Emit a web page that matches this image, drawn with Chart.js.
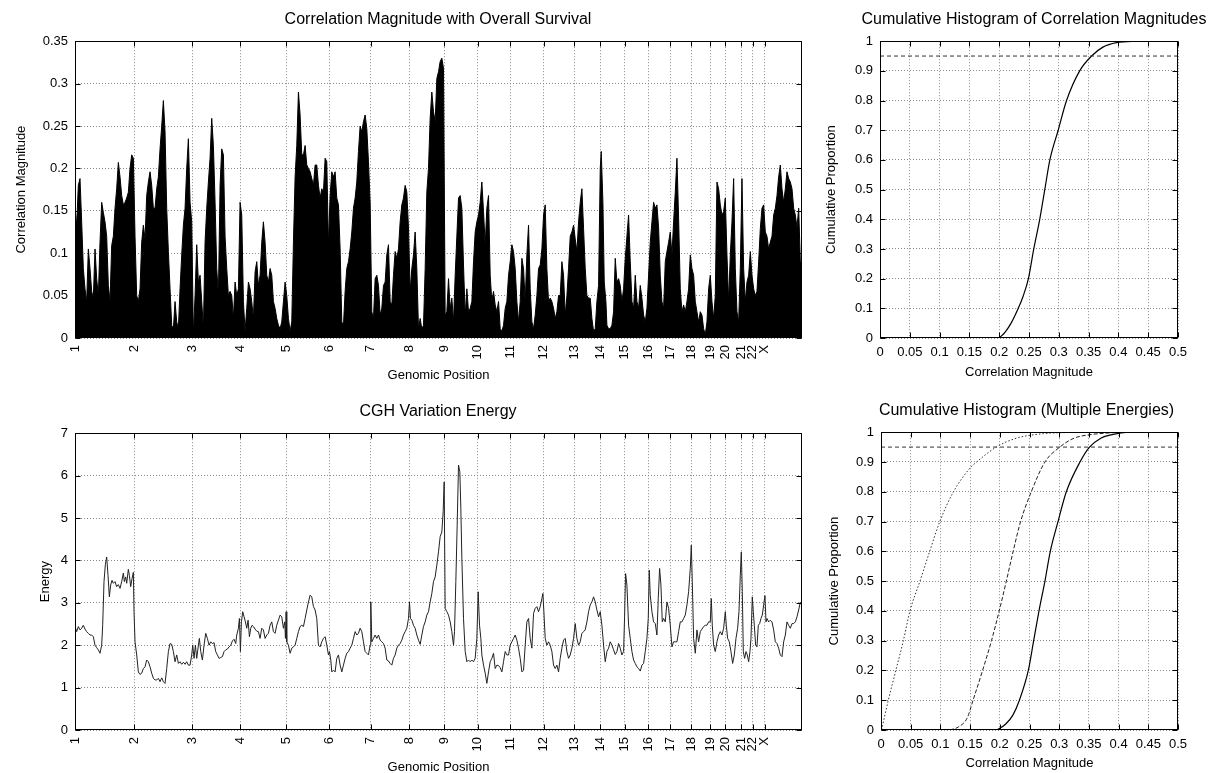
<!DOCTYPE html>
<html><head><meta charset="utf-8">
<script src="https://cdn.jsdelivr.net/npm/chart.js@4.4.1/dist/chart.umd.min.js"></script>
<style>
html,body{margin:0;padding:0;background:#fff;overflow:hidden;width:1228px;height:773px;position:relative;}
canvas{position:absolute;}
</style></head><body>
<canvas id="cA" width="876" height="385" style="left:0;top:0"></canvas>
<canvas id="cB" width="428" height="385" style="left:820px;top:0"></canvas>
<canvas id="cC" width="876" height="393" style="left:0;top:385px"></canvas>
<canvas id="cD" width="413" height="393" style="left:820px;top:385px"></canvas>
<script>
// ---------- chromosome layout (genome position units) ----------
const chromStart = [0,177,351,495,633,762,887,1003,1107,1208,1305,1405,1497,1575,1648,1719,1785,1848,1905,1950,1998,2032,2068];
const chromLabel = ['1','2','3','4','5','6','7','8','9','10','11','12','13','14','15','16','17','18','19','20','21','22','X'];
const genomeEnd = 2180;

// ---------- correlation magnitude with overall survival ----------
const corrPos = [
0,5,10,15,20,25,30,35,40,45,
50,55,60,65,70,75,80,85,90,95,
100,105,110,115,120,125,130,135,140,145,
150,155,160,165,170,175,180,185,190,195,
200,205,210,215,220,225,230,235,240,245,
250,255,260,265,270,275,280,285,290,295,
300,305,310,315,320,325,330,335,340,345,
350,355,360,365,370,375,380,385,390,395,
400,405,410,415,420,425,430,435,440,445,
450,455,460,465,470,475,480,485,490,495,
500,505,510,515,520,525,530,535,540,545,
550,555,560,565,570,575,580,585,590,595,
600,605,610,615,620,625,630,635,640,645,
650,655,660,665,670,675,680,685,690,695,
700,705,710,715,720,
725,730,735,740,745,750,755,760,765,770,
775,780,785,790,795,800,805,810,815,820,
825,830,835,840,845,850,855,860,865,870,
875,880,885,890,895,900,905,910,915,920,
925,930,935,940,945,950,955,960,965,970,
975,980,985,990,995,1000,1005,1010,1015,1020,
1025,1030,1035,1040,1045,1050,1055,1060,1065,1070,
1075,1080,1085,1090,1095,1100,1105,1110,1115,1120,
1125,1130,1135,1140,1145,1150,1155,1160,1165,1170,
1175,1180,1185,1190,1195,1200,1205,1210,1215,1220,
1225,1230,1235,1240,1245,1250,1255,1260,1265,1270,
1275,1280,1285,1290,1295,1300,1305,1310,1315,1320,
1325,1330,1335,1340,1345,1350,1355,1360,1365,1370,
1375,1380,1385,1390,1395,1400,1405,1410,1415,1420,
1425,1430,1435,1440,1445,1450,
1455,1460,1465,1470,1475,1480,1485,1490,1495,1500,
1505,1510,1515,1520,1525,1530,1535,1540,1545,1550,
1555,1560,1565,1570,
1575,1578,1583,1587,1592,
1595,1600,1605,1610,1615,1620,1625,1630,1635,1640,
1645,1650,1655,1660,1665,1670,1675,1680,1685,1690,
1695,1700,1705,1710,1715,1720,1725,1730,1735,1740,
1745,1750,1755,1760,1765,1770,1775,1780,1785,1790,
1795,1800,1805,1810,1815,1820,1825,1830,1835,1840,
1845,1850,1855,1860,1865,1870,1875,1880,1885,1890,
1895,1900,1905,1910,1915,1920,1925,1930,1935,1940,
1945,1950,1955,1960,1965,1970,1975,1980,1985,1990,
1995,2000,2005,2010,2015,2020,2025,2030,2035,2040,
2045,2050,2055,2060,2065,2070,2075,2080,2085,2090,
2095,2100,2105,2110,2115,2120,2125,2130,2135,2140,
2145,2150,2155,2160,2165,2170,2175,
2178];
const corrVal = [
.153,.133,.18,.188,.137,.082,.058,.043,.105,.082,
.055,.047,.105,.07,.05,.113,.16,.148,.137,.12,
.062,.043,.109,.12,.153,.176,.207,.19,.168,.157,
.16,.165,.172,.2,.216,.212,.12,.05,.043,.058,
.113,.133,.117,.168,.184,.196,.18,.153,.153,.176,
.19,.223,.25,.28,.243,.153,.102,.058,.015,.011,
.043,.019,.011,.058,.098,.133,.153,.2,.235,.16,
.137,.004,.05,.11,.066,.074,.043,.011,.113,.153,
.184,.212,.259,.227,.16,.082,.05,.18,.223,.216,
.12,.082,.05,.055,.05,.023,.066,.05,.058,.16,
.145,.043,.008,.035,.066,.058,.043,.023,.078,.09,
.062,.074,.113,.137,.113,.074,.066,.082,.074,.043,
.035,.023,.015,.011,.019,.043,.066,.05,.023,.008,
.019,.113,.19,.227,.29,.263,.216,.216,.227,.204,
.2,.196,.188,.18,.204,
.204,.18,.165,.176,.172,.212,.208,.11,.168,.196,
.19,.196,.165,.157,.105,.019,.015,.055,.082,.09,
.105,.125,.153,.165,.184,.22,.25,.243,.255,.263,
.247,.208,.16,.031,.023,.07,.074,.062,.027,.035,
.062,.066,.098,.11,.043,.039,.074,.102,.094,.105,
.137,.157,.165,.18,.172,.13,.055,.082,.098,.125,
.082,.011,.023,.011,.015,.082,.172,.2,.259,.29,
.267,.255,.306,.314,.326,.33,.318,.027,.031,.07,
.035,.047,.019,.074,.12,.165,.168,.153,.086,.027,
.058,.031,.035,.043,.09,.125,.137,.145,.16,.184,
.149,.11,.153,.168,.074,.043,.055,.039,.031,.043,
.011,.008,.015,.035,.043,.074,.09,.11,.102,.082,
.043,.019,.043,.094,.082,.043,.098,.133,.058,.019,
.011,.027,.05,.082,.086,.105,.145,.157,.082,.043,
.047,.043,.035,.023,.031,.05,
.05,.09,.074,.027,.05,.082,.12,.125,.133,.117,
.102,.137,.16,.176,.129,.082,.05,.047,.047,.023,
.008,.011,.043,.062,
.2,.22,.16,.066,.043,
.015,.011,.011,.015,.031,.094,.066,.07,.062,.043,
.058,.094,.12,.145,.09,.043,.035,.074,.043,.035,
.062,.047,.027,.019,.035,.074,.113,.137,.16,.153,
.157,.13,.074,.043,.035,.09,.102,.113,.125,.098,
.137,.172,.212,.141,.058,.031,.039,.031,.043,.058,
.098,.082,.074,.043,.031,.019,.031,.027,.011,.004,
.019,.058,.074,.043,.023,.05,.184,.176,.157,.145,
.149,.165,.098,.043,.098,.137,.188,.082,.031,.019,
.082,.188,.082,.043,.066,.074,.102,.074,.058,.05,
.055,.09,.129,.153,.157,.125,.12,.105,.113,.12,
.145,.153,.168,.19,.204,.176,.16,.176,.196,.188,
.184,.176,.153,.145,.13,.153,.09,
.09];

// ---------- CGH variation energy ----------
const energyPos = [
0,5,10,15,20,25,30,35,40,45,
50,55,60,65,70,75,80,83,87,91,
95,99,103,107,111,115,120,125,130,135,
140,145,148,152,155,160,163,167,171,175,
177,180,185,190,195,200,205,210,215,220,
225,230,235,240,245,250,255,260,265,270,
275,280,285,290,295,300,305,310,315,320,
325,330,335,340,345,350,353,357,361,365,
370,373,377,382,387,392,397,402,407,412,
417,422,427,432,437,442,447,452,457,462,
467,472,477,482,485,490,493,496,499,503,
507,511,515,519,523,527,531,535,540,545,
550,555,560,565,570,575,580,585,590,595,
600,605,610,615,620,625,629,631,633,635,
640,645,650,655,660,665,670,675,680,685,
690,695,700,705,710,715,720,
725,730,735,740,745,750,755,760,763,767,
770,775,780,785,790,795,800,805,810,815,
820,825,830,835,840,845,850,855,860,865,
870,875,880,885,887,890,895,900,905,910,
915,920,925,930,935,940,945,950,955,960,
965,970,975,980,985,990,995,1000,1003,1006,
1010,1015,1020,1025,1030,1035,1040,1045,1050,1055,
1060,1065,1070,1075,1080,1085,1090,1095,1100,1104,
1107,1110,1115,1120,1125,1130,1135,1138,1142,1146,
1150,1154,1157,1160,1165,1170,1175,1180,1185,1190,
1195,1200,1205,1209,1213,1217,1220,1225,1230,1235,
1240,1245,1250,1255,1260,1265,1270,1275,1280,1285,
1290,1295,1300,1305,1310,1315,1320,1325,1330,1335,
1340,1345,1350,1355,1360,1365,1370,1375,1380,1385,
1390,1395,1400,1403,1406,1410,1415,1420,1425,1430,
1435,1440,1445,1450,
1455,1460,1465,1470,1475,1480,1485,1490,1495,1500,
1505,1510,1515,1520,1525,1530,1535,1540,1545,1550,
1555,1560,1565,1570,1575,1580,1585,1590,1595,1600,
1605,1610,1615,1620,1625,1630,1635,1640,1645,1648,
1651,1655,1660,1665,1670,1675,1680,1685,1690,1695,
1700,1705,1710,1715,1719,1722,1725,1730,1735,1740,
1745,1749,1753,1757,1761,1765,1770,1775,1780,1785,
1790,1795,1800,1805,1810,1815,1820,1825,1830,1835,
1840,1845,1848,1851,1855,1860,1865,1870,1875,1880,
1885,1890,1895,1900,1905,1908,1911,1915,1920,1925,
1930,1935,1940,1945,1950,1953,1957,1962,1967,1972,
1977,1982,1987,1991,1995,1998,2001,2004,2008,2012,
2016,2020,2024,2027,2031,2034,2037,2041,2045,2049,
2053,2057,2061,2065,2069,2072,2075,2080,2085,2090,
2095,2100,2105,2110,2115,2120,2125,2130,2135,2140,
2145,2150,2155,2160,2165,2170,2175];
const energyVal = [
2.44,2.32,2.44,2.36,2.4,2.47,2.38,2.32,2.28,2.24,
2.24,2.2,2.0,1.94,1.89,1.81,2.0,2.47,3.5,3.9,
4.08,3.65,3.14,3.42,3.53,3.46,3.5,3.38,3.43,3.34,
3.5,3.7,3.5,3.61,3.46,3.79,3.65,3.38,3.57,3.72,
2.79,2.08,1.77,1.37,1.31,1.34,1.45,1.49,1.65,1.61,
1.49,1.34,1.22,1.18,1.18,1.22,1.14,1.23,1.14,1.1,
1.45,1.85,2.04,2.02,1.85,1.61,1.77,1.57,1.61,1.55,
1.6,1.55,1.61,1.53,1.53,1.77,2.0,1.69,2.0,1.69,
2.0,2.16,1.85,1.65,2.0,2.28,2.16,2.0,2.08,2.04,
2.06,1.85,1.77,1.69,1.71,1.73,1.85,1.89,1.91,1.96,
2.0,2.1,2.14,2.04,2.24,2.4,2.63,1.85,2.55,2.79,
2.67,2.55,2.4,2.59,2.2,2.4,2.47,2.44,2.38,2.33,
2.32,2.16,2.4,2.36,2.16,2.24,2.28,2.47,2.55,2.32,
2.28,2.47,2.59,2.71,2.67,2.4,2.55,2.16,2.79,2.08,
2.0,1.81,1.93,1.96,2.0,2.16,2.32,2.44,2.47,2.44,
2.63,2.83,3.02,3.18,3.14,2.91,2.83,
2.63,2.0,1.96,2.08,2.16,2.2,2.0,1.77,1.85,1.65,
1.37,1.41,1.37,1.69,1.77,1.53,1.37,1.53,1.69,1.81,
1.85,1.93,2.0,2.16,2.32,2.24,2.28,2.4,2.32,2.08,
1.85,1.81,1.77,2.0,3.02,2.08,2.16,2.24,2.16,2.24,
2.12,2.08,2.04,1.93,1.65,1.63,1.57,1.53,1.69,1.77,
1.93,2.0,2.04,2.12,2.24,2.32,2.4,2.63,3.02,2.63,
2.59,2.47,2.4,2.24,2.12,2.02,2.24,2.44,2.55,2.71,
2.79,3.02,3.22,3.5,3.61,3.89,4.2,4.56,4.67,5.15,
5.85,2.87,2.79,2.71,2.55,2.32,2.0,2.32,3.5,4.83,
6.25,6.09,5.23,4.05,2.63,1.85,1.61,1.65,1.61,1.65,
1.61,1.69,2.16,3.26,2.47,2.16,1.77,1.53,1.34,1.1,
1.37,1.61,1.69,1.81,1.45,1.53,1.52,1.47,1.37,1.61,
1.85,1.77,1.77,2.0,2.08,2.16,2.24,2.12,1.93,1.69,
1.37,1.41,2.0,2.55,2.63,2.16,1.93,2.75,2.87,2.91,
2.79,2.91,3.1,3.22,2.79,2.16,2.0,2.08,2.0,1.85,
1.53,1.45,1.53,1.37,
1.69,1.93,2.12,2.16,1.85,1.69,1.77,1.93,2.16,2.51,
2.16,2.0,2.08,2.28,2.32,2.36,2.55,2.79,2.95,3.02,
3.14,3.02,2.83,2.67,2.79,2.47,2.0,1.61,1.85,1.93,
2.08,2.0,1.89,1.78,1.85,2.04,1.93,1.77,1.85,2.67,
3.69,3.42,2.47,2.16,1.85,1.65,1.57,1.49,1.45,1.39,
1.53,1.57,1.85,2.16,2.63,3.77,3.18,2.79,2.55,2.51,
2.24,3.1,3.81,3.42,2.55,2.63,2.55,3.02,2.87,2.47,
1.96,2.08,2.08,2.08,2.32,2.55,2.55,2.63,2.71,2.95,
3.26,3.81,4.36,3.5,2.16,1.81,2.36,2.08,2.32,2.38,
2.44,2.47,2.47,2.55,2.55,3.1,2.47,2.0,1.85,2.08,
2.24,2.32,2.24,2.4,2.79,2.47,2.16,2.08,1.85,1.57,
1.77,2.16,2.4,2.79,3.65,4.2,3.26,1.85,1.69,1.85,
1.77,1.61,1.85,2.16,3.14,2.79,2.47,2.0,1.96,2.47,
2.51,2.63,2.71,2.95,3.17,2.55,2.63,2.55,2.59,2.55,
2.36,2.08,2.04,1.93,1.77,1.73,2.08,2.24,2.55,2.47,
2.4,2.51,2.51,2.55,2.67,2.83,3.02];

// ---------- cumulative histograms ----------
const cdfAllX = [0.2,0.21,0.22,0.232,0.24,0.249,0.258,0.268,0.2765,0.285,0.299,0.313,0.335,0.355,0.374,0.397,0.435];
const cdfAllY = [0,0.02,0.05,0.1,0.14,0.2,0.3,0.4,0.5,0.6,0.7,0.8,0.9,0.95,0.98,0.995,1];
const cdfSolidX = [0.195,0.21,0.222,0.233,0.248,0.257,0.266,0.276,0.285,0.298,0.312,0.335,0.351,0.37,0.385,0.42,0.44];
const cdfSolidY = [0,0.02,0.05,0.1,0.2,0.3,0.4,0.5,0.6,0.7,0.8,0.9,0.95,0.98,0.99,1,1];
const cdfDashX = [0.116,0.13,0.145,0.155,0.171,0.186,0.199,0.211,0.2225,0.235,0.253,0.276,0.301,0.325,0.346,0.4];
const cdfDashY = [0,0.01,0.04,0.1,0.2,0.3,0.4,0.5,0.6,0.7,0.8,0.9,0.95,0.98,0.99,1];
const cdfDotX = [0.001,0.0123,0.025,0.0376,0.0488,0.0656,0.082,0.099,0.122,0.15,0.161,0.194,0.228,0.273,0.33];
const cdfDotY = [0,0.1,0.2,0.3,0.4,0.5,0.6,0.7,0.8,0.88,0.9,0.95,0.98,0.995,1];
const thresholdX = [0, 0.5];
const thresholdY = [0.95, 0.95];

// ---------- helpers ----------
const FONT = '"Liberation Sans", Arial, Helvetica, sans-serif';
Chart.defaults.font.family = FONT;
Chart.defaults.font.size = 13;
Chart.defaults.color = '#000';

const zip = (xs, ys) => xs.map((x, i) => ({x: x, y: ys[i]}));
const plainNum = (v) => String(parseFloat(Number(v).toFixed(4)));

const framePlugin = {
  id: 'frame',
  afterDraw(chart) {
    const {ctx, chartArea: a} = chart;
    const xs = chart.scales.x, ys = chart.scales.y;
    const L = 5;
    const l = Math.round(a.left) + 0.5, r = Math.round(a.right) - 0.5;
    const t = Math.round(a.top) + 0.5, b = Math.round(a.bottom) - 0.5;
    ctx.save();
    ctx.strokeStyle = '#000';
    ctx.lineWidth = 1;
    ctx.setLineDash([]);
    ctx.beginPath();
    xs.ticks.forEach(tk => {
      const p = Math.round(xs.getPixelForValue(tk.value)) + 0.5;
      ctx.moveTo(p, b); ctx.lineTo(p, b - L);
      ctx.moveTo(p, t); ctx.lineTo(p, t + L);
    });
    ys.ticks.forEach(tk => {
      const p = Math.round(ys.getPixelForValue(tk.value)) + 0.5;
      ctx.moveTo(l, p); ctx.lineTo(l + L, p);
      ctx.moveTo(r, p); ctx.lineTo(r - L, p);
    });
    ctx.stroke();
    ctx.strokeRect(l, t, r - l, b - t);
    ctx.restore();
  }
};

const GRID = {color: '#8a8a8a', lineWidth: 1, drawTicks: false};
const BORDER = {display: false, dash: [1, 2]};

function makeOptions(c) {
  const xScale = {
    type: 'linear', min: c.xMin, max: c.xMax,
    grid: GRID, border: BORDER,
    title: {display: true, text: c.xTitle, font: {size: 13}, padding: {top: 0, bottom: c.xTitlePad}},
    afterFit(s) { s.height = c.xH; }
  };
  if (c.genomic) {
    xScale.afterBuildTicks = (s) => { s.ticks = chromStart.map(v => ({value: v})); };
    xScale.ticks = {autoSkip: false, minRotation: 90, maxRotation: 90, padding: 7,
      callback: (v, i) => chromLabel[i]};
  } else {
    xScale.ticks = {stepSize: 0.05, autoSkip: false, maxRotation: 0, minRotation: 0, padding: 7,
      callback: (v) => plainNum(v)};
  }
  return {
    responsive: false, animation: false, devicePixelRatio: 1,
    layout: {padding: 0},
    plugins: {
      legend: {display: false}, tooltip: {enabled: false},
      title: {display: true, text: c.title, color: '#000', font: {size: 16, weight: 'normal'},
        padding: {top: c.tTop, bottom: c.tBot}}
    },
    scales: {
      x: xScale,
      y: {
        type: 'linear', min: c.yMin, max: c.yMax,
        grid: GRID, border: BORDER,
        ticks: {stepSize: c.yStep, padding: 7, callback: (v) => plainNum(v)},
        title: {display: true, text: c.yTitle, font: {size: 13}, padding: {top: c.yTitlePad, bottom: 0}},
        afterFit(s) { s.width = c.yW; }
      },
      y2: {
        type: 'linear', position: 'right', display: true,
        ticks: {display: false}, grid: {display: false}, border: {display: false},
        afterFit(s) { s.width = c.rW; }
      }
    }
  };
}

// ---------- top-left: correlation magnitude ----------
new Chart(document.getElementById('cA'), {
  type: 'line',
  data: {datasets: [{
    data: zip(corrPos, corrVal), borderColor: '#000', backgroundColor: '#000',
    borderWidth: 1, pointRadius: 0, fill: 'origin', tension: 0
  }]},
  options: makeOptions({
    title: 'Correlation Magnitude with Overall Survival', tTop: 10, tBot: 12,
    genomic: true, xMin: 0, xMax: genomeEnd, xTitle: 'Genomic Position', xTitlePad: 2, xH: 47,
    yMin: 0, yMax: 0.35, yStep: 0.05, yTitle: 'Correlation Magnitude', yTitlePad: 14, yW: 75, rW: 74
  }),
  plugins: [framePlugin]
});

// ---------- top-right: cumulative histogram ----------
new Chart(document.getElementById('cB'), {
  type: 'line',
  data: {datasets: [
    {data: zip(thresholdX, thresholdY), borderColor: '#333', borderWidth: 1, borderDash: [4, 3], pointRadius: 0},
    {data: zip(cdfAllX, cdfAllY), borderColor: '#000', borderWidth: 1.2, pointRadius: 0, cubicInterpolationMode: 'monotone'}
  ]},
  options: makeOptions({
    title: 'Cumulative Histogram of Correlation Magnitudes', tTop: 10, tBot: 12,
    genomic: false, xMin: 0, xMax: 0.5, xTitle: 'Correlation Magnitude', xTitlePad: 5, xH: 47,
    yMin: 0, yMax: 1, yStep: 0.1, yTitle: 'Cumulative Proportion', yTitlePad: 4, yW: 60, rW: 70
  }),
  plugins: [framePlugin]
});

// ---------- bottom-left: CGH variation energy ----------
new Chart(document.getElementById('cC'), {
  type: 'line',
  data: {datasets: [{
    data: zip(energyPos, energyVal), borderColor: '#222', borderWidth: 1,
    pointRadius: 0, fill: false, tension: 0
  }]},
  options: makeOptions({
    title: 'CGH Variation Energy', tTop: 17, tBot: 12,
    genomic: true, xMin: 0, xMax: genomeEnd, xTitle: 'Genomic Position', xTitlePad: 3, xH: 48,
    yMin: 0, yMax: 7, yStep: 1, yTitle: 'Energy', yTitlePad: 38, yW: 75, rW: 74
  }),
  plugins: [framePlugin]
});

// ---------- bottom-right: cumulative histograms for several energies ----------
new Chart(document.getElementById('cD'), {
  type: 'line',
  data: {datasets: [
    {data: zip(thresholdX, thresholdY), borderColor: '#333', borderWidth: 1, borderDash: [4, 3], pointRadius: 0},
    {data: zip(cdfDotX, cdfDotY), borderColor: '#333', borderWidth: 1, borderDash: [1.5, 2], pointRadius: 0, cubicInterpolationMode: 'monotone'},
    {data: zip(cdfDashX, cdfDashY), borderColor: '#222', borderWidth: 1, borderDash: [4, 2], pointRadius: 0, cubicInterpolationMode: 'monotone'},
    {data: zip(cdfSolidX, cdfSolidY), borderColor: '#000', borderWidth: 1.2, pointRadius: 0, cubicInterpolationMode: 'monotone'}
  ]},
  options: makeOptions({
    title: 'Cumulative Histogram (Multiple Energies)', tTop: 16, tBot: 12,
    genomic: false, xMin: 0, xMax: 0.5, xTitle: 'Correlation Magnitude', xTitlePad: 7, xH: 48,
    yMin: 0, yMax: 1, yStep: 0.1, yTitle: 'Cumulative Proportion', yTitlePad: 7, yW: 61, rW: 55
  }),
  plugins: [framePlugin]
});
</script>
</body></html>
